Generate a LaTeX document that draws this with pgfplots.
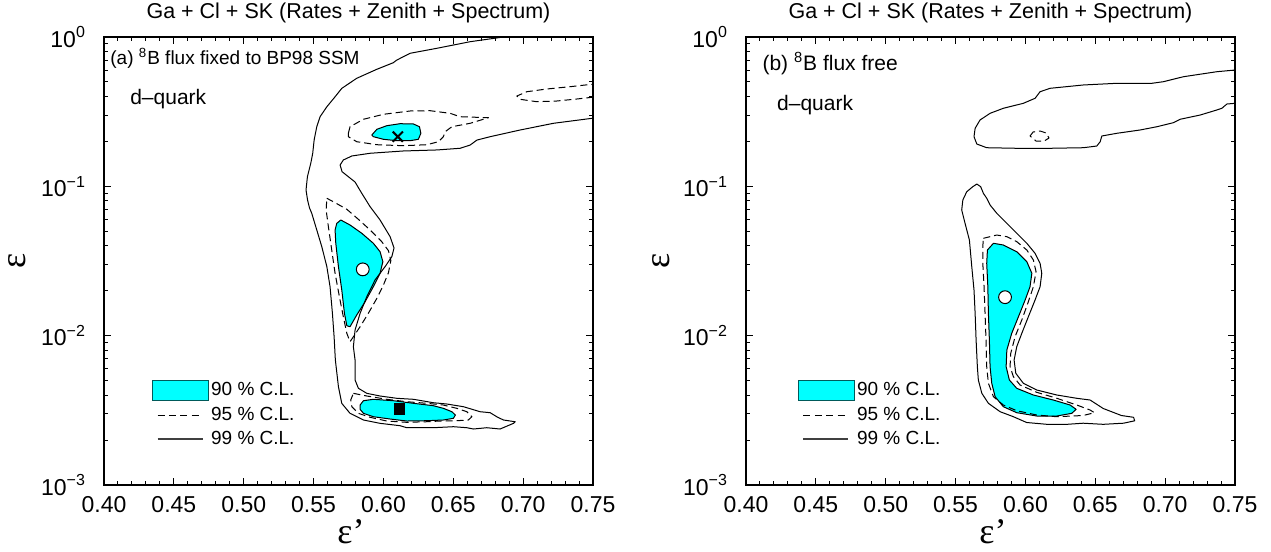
\documentclass[border=0pt]{standalone}
\usepackage{pgfplots}
\pgfplotsset{compat=1.18}
\usepackage{fontspec}
\setmainfont{Liberation Sans}
\newfontfamily\serifeps{Liberation Serif}
\definecolor{cl90}{RGB}{0,255,255}
\definecolor{legborder}{RGB}{0,90,90}
\newcommand{\dec}[1]{10\raisebox{4.6pt}{\fontsize{8}{8}\selectfont #1}}
\pgfplotsset{
  c90/.style={fill=cl90, draw=black, line width=0.5pt, line join=round, forget plot},
  c95/.style={black, line width=0.5pt, dash pattern=on 3.5pt off 2pt, line join=round, forget plot},
  c99/.style={black, line width=0.5pt, line join=round, forget plot},
  every axis title/.style={at={(axis description cs:0.5,1.054)}, anchor=center, font=\fontsize{10.75}{12}\selectfont},
  panel/.style={
    scale only axis, width=244.5pt, height=224pt,
    xmin=0.4, xmax=0.75, ymin=1e-3, ymax=1,
    xtick={0.40,0.45,0.50,0.55,0.60,0.65,0.70,0.75},
    minor x tick num=4,
    ytick={1e-3,1e-2,1e-1,1},
    minor ytick={2e-3,3e-3,4e-3,5e-3,6e-3,7e-3,8e-3,9e-3,2e-2,3e-2,4e-2,5e-2,6e-2,7e-2,8e-2,9e-2,2e-1,3e-1,4e-1,5e-1,6e-1,7e-1,8e-1,9e-1},
    yticklabels={\dec{−3},\dec{−2},\dec{−1},\dec{0}},
    tick align=inside, major tick length=3.5pt, minor tick length=2pt,
    tick style={black, line width=0.5pt},
    axis line style={line width=0.8pt},
    /pgf/number format/assume math mode=true,
    x tick label style={/pgf/number format/fixed,/pgf/number format/fixed zerofill,/pgf/number format/precision=2, font=\fontsize{11.5}{13}\selectfont, yshift=-2pt},
    y tick label style={font=\fontsize{11.5}{13}\selectfont, xshift=-6pt},
    title={Ga + Cl + SK (Rates + Zenith + Spectrum)},
    xlabel={\serifeps\fontsize{18}{18}\selectfont ε’},
    xlabel style={at={(axis description cs:0.505,-0.105)}, anchor=center},
    ylabel={\serifeps\fontsize{18}{18}\selectfont ε},
    legend style={anchor=north west, draw=none, fill=none, inner sep=0pt, outer sep=0pt,
      font=\fontsize{9.5}{11}\selectfont, row sep=1.8pt, nodes={inner sep=1pt}},
    legend cell align=left,
  }
}
\begin{document}
\begin{tikzpicture}
\path[use as bounding box] (0,0) rectangle (635.5pt,276pt);
% ---------------- left panel ----------------
\begin{axis}[ymode=log, panel, at={(52pt,33.5pt)}, anchor=south west,
  ylabel style={at={(axis description cs:-0.178,0.5)}, anchor=center},
  legend style={at={(axis description cs:0.098,0.234)}}]
% 90% regions
\addplot[c90] coordinates {(0.5917,0.2207) (0.5953,0.2409) (0.6024,0.2547) (0.6119,0.2627) (0.6215,0.2615) (0.6258,0.2507) (0.6268,0.2265) (0.6250,0.2065) (0.6191,0.2021) (0.6096,0.2021) (0.6000,0.2065) (0.5928,0.2150)} -- cycle;
\addplot[c90] coordinates {(0.5695,0.0595) (0.5761,0.0551) (0.5845,0.0485) (0.5928,0.04155) (0.5976,0.03650) (0.5996,0.03128) (0.5976,0.02616) (0.5928,0.02128) (0.5869,0.01688) (0.5809,0.01375) (0.5761,0.01148) (0.5738,0.01166) (0.5721,0.01411) (0.5702,0.02022) (0.5678,0.0290) (0.5659,0.04155) (0.5654,0.0510) (0.5666,0.0565)} -- cycle;
\addplot[c90] coordinates {(0.5833,0.003432) (0.5857,0.003668) (0.5928,0.003749) (0.6071,0.003668) (0.6215,0.003524) (0.6358,0.003396) (0.6429,0.003262) (0.6490,0.003096) (0.6515,0.002942) (0.6501,0.002796) (0.6429,0.002724) (0.6311,0.002695) (0.6167,0.002682) (0.6048,0.002766) (0.5928,0.002866) (0.5857,0.00302) (0.5833,0.003213)} -- cycle;
% 95% contours
\addplot[c95] coordinates {(0.5749,0.2265) (0.5761,0.2507) (0.5857,0.2812) (0.6000,0.3037) (0.6191,0.3195) (0.6334,0.3210) (0.6477,0.3083) (0.6549,0.2926) (0.6669,0.2899) (0.6752,0.2881) (0.6621,0.2643) (0.6490,0.2507) (0.6442,0.2322) (0.6429,0.2150) (0.6394,0.1990) (0.6311,0.1900) (0.6143,0.1871) (0.5953,0.1900) (0.5809,0.1990) (0.5749,0.2150)} -- cycle;
\addplot[c95] coordinates {(0.7695,0.4995) (0.7492,0.4824) (0.7337,0.4648) (0.7170,0.4486) (0.7027,0.4302) (0.6955,0.4026) (0.6979,0.3826) (0.7098,0.3687) (0.7241,0.3727) (0.7384,0.3844) (0.7492,0.3946) (0.7695,0.4153)};
\addplot[c95] coordinates {(0.5595,0.0832) (0.5654,0.0777) (0.5738,0.0702) (0.5821,0.0601) (0.5905,0.0510) (0.5988,0.0426) (0.6036,0.0371) (0.6053,0.0318) (0.6036,0.0264) (0.6000,0.02184) (0.5953,0.01779) (0.5892,0.01411) (0.5833,0.01148) (0.5785,0.00984) (0.5761,0.00911) (0.5738,0.01037) (0.5713,0.01339) (0.5685,0.01823) (0.5654,0.02616) (0.5630,0.03747) (0.5606,0.0537) (0.5590,0.0694)} -- cycle;
\addplot[c95] coordinates {(0.5785,0.004111) (0.5881,0.003944) (0.6024,0.003749) (0.6167,0.003612) (0.6311,0.003524) (0.6429,0.003432) (0.6525,0.003262) (0.6597,0.003096) (0.6633,0.002866) (0.6608,0.002724) (0.6525,0.002695) (0.6406,0.002682) (0.6311,0.002653) (0.6167,0.002629) (0.6024,0.002682) (0.5905,0.002840) (0.5821,0.00302) (0.5774,0.003344) (0.5766,0.003708)} -- cycle;
% 99% contour
\addplot[c99] coordinates {(0.7122,1.096) (0.6859,1.000) (0.6621,0.930) (0.6382,0.840) (0.6191,0.778) (0.6096,0.701) (0.6071,0.673) (0.5953,0.608) (0.5809,0.529) (0.5702,0.453) (0.5654,0.398) (0.5595,0.341) (0.5547,0.293) (0.5523,0.251) (0.5504,0.204) (0.5494,0.1665) (0.5480,0.1426) (0.5456,0.1160) (0.5446,0.0945) (0.5457,0.0810) (0.5471,0.0716) (0.5487,0.0660) (0.5523,0.0510) (0.5559,0.0394) (0.5595,0.0290) (0.5618,0.02128) (0.5635,0.01411) (0.5647,0.00984) (0.5656,0.00687) (0.5678,0.00455) (0.5702,0.00352) (0.5761,0.00302) (0.5857,0.002724) (0.5976,0.002588) (0.6119,0.002495) (0.6167,0.002419) (0.6358,0.002419) (0.6501,0.002457) (0.6597,0.002419) (0.6644,0.002371) (0.6740,0.002419) (0.6835,0.002371) (0.6931,0.002588) (0.6943,0.002653) (0.6859,0.002724) (0.6811,0.002866) (0.6764,0.003049) (0.6692,0.003096) (0.6573,0.003344) (0.6454,0.003486) (0.6358,0.003556) (0.6215,0.003749) (0.6096,0.003807) (0.5976,0.003944) (0.5881,0.004111) (0.5821,0.004441) (0.5797,0.005048) (0.5797,0.005888) (0.5797,0.00687) (0.5785,0.00844) (0.5797,0.01091) (0.5833,0.01411) (0.5881,0.01823) (0.5940,0.02359) (0.6012,0.0290) (0.6060,0.03379) (0.6076,0.03864) (0.6048,0.0460) (0.5976,0.0595) (0.5905,0.0730) (0.5845,0.0898) (0.5797,0.1069) (0.5749,0.1160) (0.5704,0.1253) (0.5690,0.1389) (0.5713,0.1501) (0.5774,0.1597) (0.5905,0.1665) (0.6143,0.1725) (0.6382,0.1752) (0.6549,0.1798) (0.6621,0.1891) (0.6669,0.204) (0.6764,0.2150) (0.6979,0.2384) (0.7217,0.2643) (0.7494,0.2855) (0.7695,0.3051)};
% best-fit points
\addplot[only marks, mark=x, mark size=3.6pt, mark options={line width=1pt, black}, forget plot] coordinates {(0.6103,0.215)};
\addplot[only marks, mark=*, mark size=3.2pt, mark options={fill=white, draw=black, line width=0.5pt}, forget plot] coordinates {(0.5852,0.0278)};
\addplot[only marks, mark=square*, mark size=2.7pt, mark options={fill=black, draw=black}, forget plot] coordinates {(0.6115,0.00323)};
% legend
\addlegendimage{legend image code/.code={\draw[fill=cl90, draw=legborder, line width=0.6pt] (0pt,-5pt) rectangle (28pt,5pt);}}
\addlegendentry{90 \% C.L.}
\addlegendimage{legend image code/.code={\draw[black, line width=0.5pt, dash pattern=on 3.5pt off 2.2pt] (2.5pt,0pt) -- (25pt,0pt); \path[draw=none] (0pt,0pt) -- (28pt,0pt);}}
\addlegendentry{95 \% C.L.}
\addlegendimage{legend image code/.code={\draw[black!75, line width=0.7pt] (2.5pt,0pt) -- (25pt,0pt); \path[draw=none] (0pt,0pt) -- (28pt,0pt);}}
\addlegendentry{99 \% C.L.}
\node[anchor=base west, inner sep=0pt, font=\fontsize{9.5}{11}\selectfont] at (axis description cs:0.0123,0.9375) {(a) \textsuperscript{8}B flux fixed to BP98 SSM};
\node[anchor=base west, inner sep=0pt, font=\fontsize{10.5}{12}\selectfont] at (axis description cs:0.053,0.850) {d–quark};
\end{axis}
% ---------------- right panel ----------------
\begin{axis}[ymode=log, panel, at={(373pt,33.5pt)}, anchor=south west,
  ylabel style={at={(axis description cs:-0.174,0.5)}, anchor=center},
  legend style={at={(axis description cs:0.106,0.234)}}]
\addplot[c90] coordinates {(0.5771,0.04155) (0.5842,0.04047) (0.5938,0.03650) (0.6010,0.03128) (0.6046,0.02616) (0.6033,0.02128) (0.5998,0.01733) (0.5950,0.01339) (0.5902,0.01037) (0.5867,0.00802) (0.5862,0.00620) (0.5885,0.005048) (0.5938,0.004441) (0.6057,0.004005) (0.6200,0.003708) (0.6320,0.003432) (0.6363,0.003213) (0.6332,0.00302) (0.6225,0.002897) (0.6081,0.002897) (0.5938,0.003049) (0.5842,0.003344) (0.5783,0.003902) (0.5759,0.00480) (0.5747,0.00620) (0.5742,0.00935) (0.5735,0.01411) (0.5731,0.02128) (0.5723,0.0305) (0.5728,0.03747)} -- cycle;
\addplot[c95] coordinates {(0.5699,0.04487) (0.5795,0.04721) (0.5867,0.0460) (0.5938,0.0426) (0.6010,0.03747) (0.6057,0.03211) (0.6076,0.02681) (0.6057,0.02128) (0.6021,0.01688) (0.5974,0.01273) (0.5926,0.00984) (0.5895,0.00762) (0.5890,0.00620) (0.5914,0.00531) (0.5962,0.004672) (0.6081,0.004175) (0.6225,0.003807) (0.6368,0.003432) (0.6463,0.003178) (0.6494,0.003049) (0.6413,0.002920) (0.6225,0.002866) (0.6081,0.002942) (0.5938,0.003144) (0.5842,0.003432) (0.5771,0.003902) (0.5735,0.00480) (0.5723,0.00620) (0.5718,0.00935) (0.5711,0.01411) (0.5704,0.02128) (0.5695,0.0305) (0.5695,0.0394)} -- cycle;
\addplot[c95] coordinates {(0.6033,0.2173) (0.6055,0.2311) (0.6105,0.2347) (0.6148,0.2276) (0.6169,0.2106) (0.6134,0.2011) (0.6076,0.2011)} -- cycle;
\addplot[c99] coordinates {(0.5652,0.1036) (0.5680,0.0994) (0.5699,0.0898) (0.5723,0.0832) (0.5747,0.0750) (0.5795,0.0660) (0.5867,0.0565) (0.5938,0.0485) (0.6010,0.04155) (0.6069,0.0356) (0.6105,0.0305) (0.6117,0.02616) (0.6105,0.02128) (0.6069,0.01733) (0.6021,0.01339) (0.5974,0.01037) (0.5938,0.00844) (0.5919,0.00687) (0.5931,0.00560) (0.5985,0.00480) (0.6081,0.004326) (0.6225,0.004005) (0.6368,0.003807) (0.6463,0.003708) (0.6557,0.003253) (0.6687,0.002920) (0.6774,0.002840) (0.6782,0.002691) (0.6702,0.002593) (0.6557,0.002549) (0.6413,0.002593) (0.6298,0.002549) (0.6154,0.002549) (0.6009,0.002621) (0.5914,0.002866) (0.5819,0.003096) (0.5735,0.003524) (0.5688,0.004111) (0.5663,0.005048) (0.5656,0.00620) (0.5647,0.00935) (0.5640,0.01411) (0.5632,0.02022) (0.5616,0.0290) (0.5599,0.0437) (0.5568,0.0565) (0.5544,0.0694) (0.5552,0.0810) (0.5580,0.0920) (0.5623,0.0994)} -- cycle;
\addplot[c99] coordinates {(0.7609,0.620) (0.7501,0.601) (0.7370,0.5855) (0.7131,0.542) (0.6988,0.502) (0.6905,0.4897) (0.6654,0.4897) (0.6415,0.4772) (0.6177,0.4534) (0.6105,0.4302) (0.6069,0.3886) (0.5985,0.3597) (0.5842,0.3331) (0.5747,0.3083) (0.5675,0.2781) (0.5640,0.2446) (0.5632,0.2150) (0.5652,0.1920) (0.5723,0.1814) (0.5938,0.1798) (0.6177,0.1798) (0.6415,0.1814) (0.6511,0.1862) (0.6535,0.1990) (0.6547,0.2173) (0.6654,0.2265) (0.6821,0.2384) (0.6941,0.2507) (0.7059,0.2668) (0.7107,0.2812) (0.7251,0.3003) (0.7370,0.3245) (0.7406,0.3331) (0.7442,0.3558) (0.7501,0.3597) (0.7609,0.3597)};
\addplot[only marks, mark=*, mark size=3.2pt, mark options={fill=white, draw=black, line width=0.5pt}, forget plot] coordinates {(0.5854,0.0181)};
\addlegendimage{legend image code/.code={\draw[fill=cl90, draw=legborder, line width=0.6pt] (0pt,-5pt) rectangle (28pt,5pt);}}
\addlegendentry{90 \% C.L.}
\addlegendimage{legend image code/.code={\draw[black, line width=0.5pt, dash pattern=on 3.5pt off 2.2pt] (2.5pt,0pt) -- (25pt,0pt); \path[draw=none] (0pt,0pt) -- (28pt,0pt);}}
\addlegendentry{95 \% C.L.}
\addlegendimage{legend image code/.code={\draw[black!75, line width=0.7pt] (2.5pt,0pt) -- (25pt,0pt); \path[draw=none] (0pt,0pt) -- (28pt,0pt);}}
\addlegendentry{99 \% C.L.}
\node[anchor=base west, inner sep=0pt, font=\fontsize{10.5}{12}\selectfont] at (axis description cs:0.033,0.925) {(b) \textsuperscript{8}B flux free};
\node[anchor=base west, inner sep=0pt, font=\fontsize{10.5}{12}\selectfont] at (axis description cs:0.063,0.837) {d–quark};
\end{axis}
\end{tikzpicture}
\end{document}
